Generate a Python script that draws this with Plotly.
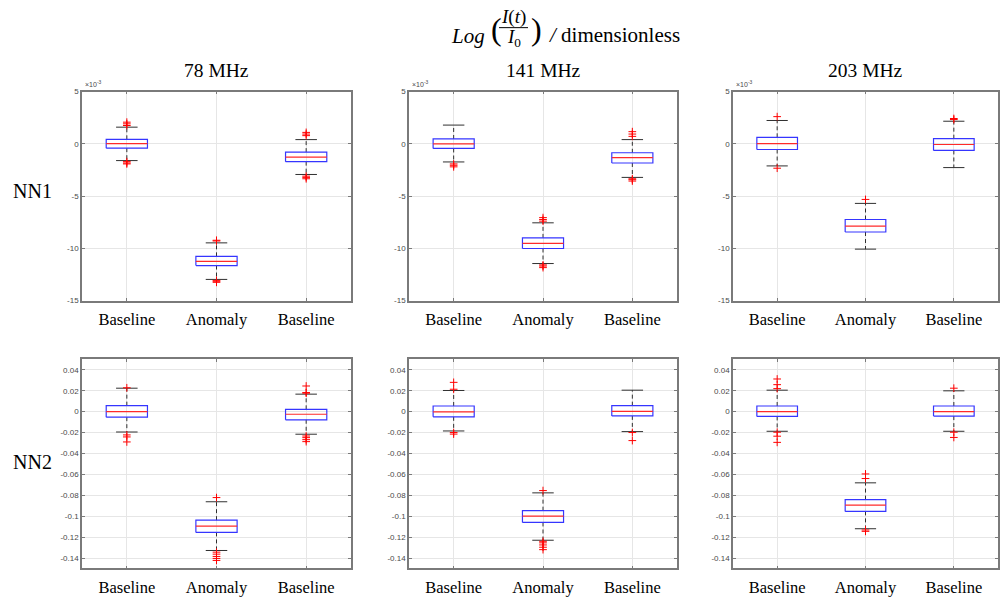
import plotly.graph_objects as go

# ---------------- data ----------------
positions = [1, 2, 3]
group_labels = ["Baseline", "Anomaly", "Baseline"]
frequencies = ["78 MHz", "141 MHz", "203 MHz"]
networks = ["NN1", "NN2"]

# NN1 values, in units of 1e-3 ; one list per frequency (78, 141, 203 MHz), each with 3 groups
nn1_q1 = [[-0.41, -11.65, -1.70], [-0.44, -10.02, -1.83], [-0.54, -8.44, -0.63]]
nn1_med = [[0.03, -11.25, -1.26], [0.00, -9.52, -1.32], [0.03, -7.87, -0.06]]
nn1_q3 = [[0.44, -10.77, -0.79], [0.47, -9.00, -0.85], [0.63, -7.24, 0.50]]
nn1_lo = [[-1.60, -12.98, -2.93], [-1.73, -11.46, -3.21], [-2.11, -10.08, -2.27]]
nn1_hi = [[1.60, -9.48, 0.41], [1.80, -7.56, 0.41], [2.24, -5.70, 2.17]]
nn1_out = [
    [[2.08, 1.92, 1.76, -1.70, -1.83, -1.92], [-9.23, -9.30, -13.07, -13.16, -13.26], [1.10, 0.94, 0.79, -3.09, -3.21, -3.34]],
    [[-1.92, -2.05, -2.20], [-7.06, -7.24, -7.40, -11.59, -11.70, -11.85], [1.17, 0.94, 0.72, -3.34, -3.43, -3.56]],
    [[2.61, -2.33], [-5.32], [2.43, 2.33]],
]

# NN2 values
nn2_q1 = [[-0.0053, -0.1155, -0.0078], [-0.0050, -0.1060, -0.0041], [-0.0046, -0.0954, -0.0043]]
nn2_med = [[0.0000, -0.1095, -0.0025], [-0.0003, -0.1000, 0.0003], [0.0000, -0.0895, 0.0000]]
nn2_q3 = [[0.0057, -0.1038, 0.0022], [0.0054, -0.0947, 0.0057], [0.0054, -0.0841, 0.0054]]
nn2_lo = [[-0.0195, -0.1328, -0.0216], [-0.0185, -0.1230, -0.0191], [-0.0188, -0.1120, -0.0188]]
nn2_hi = [[0.0224, -0.0862, 0.0167], [0.0202, -0.0777, 0.0205], [0.0205, -0.0681, 0.0199]]
nn2_out = [
    [[0.0228, -0.0223, -0.0242, -0.0290], [-0.0822, -0.1344, -0.1363, -0.1385, -0.1404, -0.1423], [0.0245, 0.0182, 0.0177, -0.0233, -0.0249, -0.0268, -0.0287]],
    [[0.0280, 0.0214, -0.0200, -0.0215], [-0.0755, -0.1240, -0.1255, -0.1275, -0.1297, -0.1320], [-0.0200, -0.0277]],
    [[0.0312, 0.0258, 0.0220, -0.0197, -0.0235, -0.0294], [-0.0596, -0.0640, -0.1132, -0.1145], [0.0224, -0.0197, -0.0247]],
]

nn1_ticks = [5, 0, -5, -10, -15]
nn1_ticktext = ["5", "0", "-5", "-10", "-15"]
nn2_ticks = [0.04, 0.02, 0, -0.02, -0.04, -0.06, -0.08, -0.1, -0.12, -0.14]
nn2_ticktext = ["0.04", "0.02", "0", "-0.02", "-0.04", "-0.06", "-0.08", "-0.1", "-0.12", "-0.14"]

# ---------------- style ----------------
W, H = 1000, 605
BOX_HALF = 0.23
CAP_HALF = 0.12
SERIF = "Liberation Serif, Times New Roman, serif"
SANS = "Liberation Sans, Arial, sans-serif"
FRAME = "#7a7a7a"
GRID = "#e6e6e6"

x_domains = [(0.082, 0.351), (0.409, 0.677), (0.733, 0.998)]
y_domains = [(0.5025, 0.8529), (0.0529, 0.4038)]

rows = [
    dict(q1=nn1_q1, med=nn1_med, q3=nn1_q3, lo=nn1_lo, hi=nn1_hi, out=nn1_out,
         rng=[-15, 5], tv=nn1_ticks, tt=nn1_ticktext),
    dict(q1=nn2_q1, med=nn2_med, q3=nn2_q3, lo=nn2_lo, hi=nn2_hi, out=nn2_out,
         rng=[-0.15, 0.05], tv=nn2_ticks, tt=nn2_ticktext),
]

fig = go.Figure()
layout = dict(width=W, height=H, autosize=False,
              margin=dict(l=0, r=0, t=0, b=0),
              paper_bgcolor="white", plot_bgcolor="white", showlegend=False)

for r, d in enumerate(rows):
    for c in range(3):
        k = r * 3 + c + 1
        xa = "x" if k == 1 else f"x{k}"
        ya = "y" if k == 1 else f"y{k}"
        wx, wy, cx, cy, bx, by, mx, my, ox, oy = [], [], [], [], [], [], [], [], [], []
        for g, p in enumerate(positions):
            q1, med, q3 = d["q1"][c][g], d["med"][c][g], d["q3"][c][g]
            lo, hi = d["lo"][c][g], d["hi"][c][g]
            wx += [p, p, None, p, p, None]
            wy += [q3, hi, None, q1, lo, None]
            cx += [p - CAP_HALF, p + CAP_HALF, None, p - CAP_HALF, p + CAP_HALF, None]
            cy += [hi, hi, None, lo, lo, None]
            bx += [p - BOX_HALF, p + BOX_HALF, p + BOX_HALF, p - BOX_HALF, p - BOX_HALF, None]
            by += [q1, q1, q3, q3, q1, None]
            mx += [p - BOX_HALF, p + BOX_HALF, None]
            my += [med, med, None]
            for v in d["out"][c][g]:
                ox.append(p)
                oy.append(v)
        common = dict(xaxis=xa, yaxis=ya, hoverinfo="skip", mode="lines")
        fig.add_trace(go.Scatter(x=wx, y=wy, line=dict(color="#303030", width=1, dash="4px,3px"), **common))
        fig.add_trace(go.Scatter(x=cx, y=cy, line=dict(color="#303030", width=1), **common))
        fig.add_trace(go.Scatter(x=bx, y=by, line=dict(color="#3535ff", width=1.2), **common))
        fig.add_trace(go.Scatter(x=mx, y=my, line=dict(color="#ff2a2a", width=1.2), **common))
        fig.add_trace(go.Scatter(x=ox, y=oy, mode="markers", xaxis=xa, yaxis=ya, hoverinfo="skip",
                                 marker=dict(symbol="cross-thin", size=5.5, color="#ff0000",
                                             line=dict(color="#ff0000", width=1))))

        kx = "xaxis" if k == 1 else f"xaxis{k}"
        ky = "yaxis" if k == 1 else f"yaxis{k}"
        layout[kx] = dict(domain=list(x_domains[c]), anchor=ya, range=[0.5, 3.5],
                          tickvals=positions, ticktext=group_labels,
                          tickfont=dict(family=SERIF, size=16.5, color="black"),
                          ticks="inside", ticklen=3, tickcolor=FRAME,
                          showline=True, linecolor=FRAME, linewidth=1.5, mirror="ticks",
                          showgrid=True, gridcolor=GRID, gridwidth=1, zeroline=False,
                          ticklabelstandoff=3, fixedrange=True)
        layout[ky] = dict(domain=list(y_domains[r]), anchor=xa, range=d["rng"],
                          tickvals=d["tv"], ticktext=d["tt"],
                          tickfont=dict(family=SANS, size=8, color="#4a4a4a"),
                          ticks="inside", ticklen=3, tickcolor=FRAME,
                          showline=True, linecolor=FRAME, linewidth=1.5, mirror="ticks",
                          showgrid=True, gridcolor=GRID, gridwidth=1, zeroline=False,
                          fixedrange=True)

fig.update_layout(**layout)


def px(x):
    return x / W


def py(y):
    return 1 - y / H


ann = []
# column titles
for c, f in enumerate(frequencies):
    ann.append(dict(x=(x_domains[c][0] + x_domains[c][1]) / 2, y=py(67), text=f,
                    font=dict(family=SERIF, size=19.5, color="black")))
    # exponent label on top row
    ann.append(dict(x=x_domains[c][0] + 0.001, y=py(87), text="×10<sup>-3</sup>", xanchor="left",
                    yanchor="bottom", font=dict(family=SANS, size=7, color="#4a4a4a")))
# row labels
ann.append(dict(x=px(32), y=py(190), text=networks[0], font=dict(family=SERIF, size=20, color="black")))
ann.append(dict(x=px(32), y=py(465), text=networks[1], font=dict(family=SERIF, size=20, color="black")))
# main title: Log( I(t) / I0 ) / dimensionless
ann.append(dict(x=px(487), y=py(32), text="<i>Log</i>", xanchor="right",
                font=dict(family=SERIF, size=21, color="black")))
ann.append(dict(x=px(489), y=py(25), text="(", xanchor="left", font=dict(family=SERIF, size=32, color="black")))
ann.append(dict(x=px(529), y=py(25), text=")", xanchor="left", font=dict(family=SERIF, size=32, color="black")))
ann.append(dict(x=px(513), y=py(13), text="<i>I</i>(<i>t</i>)", font=dict(family=SERIF, size=19, color="black")))
ann.append(dict(x=px(514), y=py(35), text="<i>I</i><sub>0</sub>", font=dict(family=SERIF, size=19, color="black")))
ann.append(dict(x=px(547), y=py(31), text="<i>/</i> dimensionless", xanchor="left",
                font=dict(family=SERIF, size=21, color="black")))
for a in ann:
    a.setdefault("xref", "paper")
    a.setdefault("yref", "paper")
    a.setdefault("showarrow", False)
    a.setdefault("xanchor", "center")
    a.setdefault("yanchor", "middle")
fig.update_layout(annotations=ann,
                  shapes=[dict(type="line", xref="paper", yref="paper", x0=px(499), x1=px(528),
                               y0=py(24), y1=py(24), line=dict(color="black", width=1))])

fig.write_html("out.html")
